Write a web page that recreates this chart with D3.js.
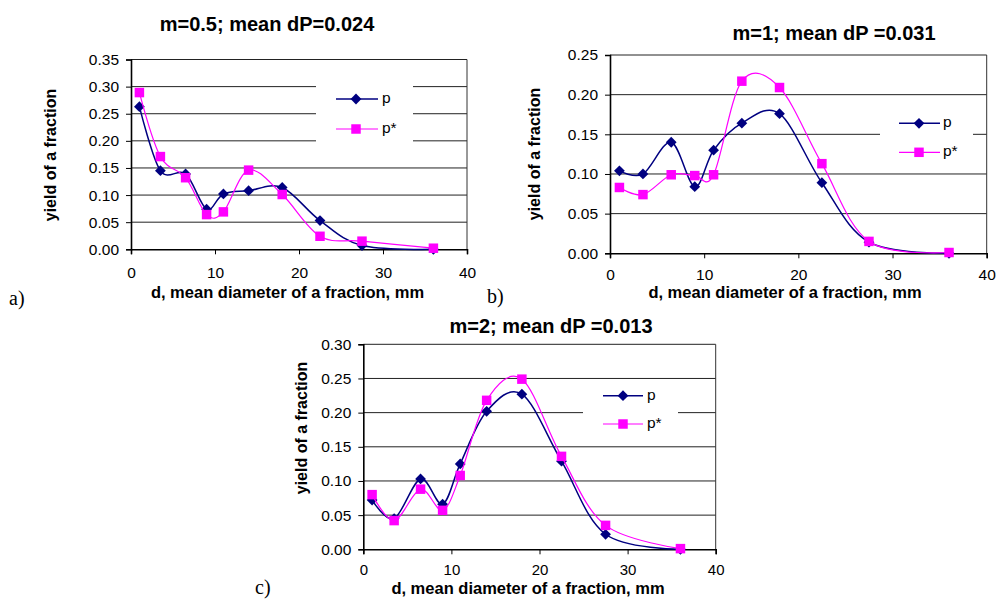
<!DOCTYPE html>
<html><head><meta charset="utf-8">
<script src="https://cdn.jsdelivr.net/npm/d3@7"></script>
<style>
html,body{margin:0;padding:0;background:#fff;}
svg{display:block;font-family:"Liberation Sans",Arial,sans-serif;}
</style></head>
<body>
<svg id="chart" width="996" height="600"></svg>
<script>
// ---- data ----
const d = [1, 3.5, 6.5, 9, 11, 14, 18, 22.5, 27.5, 36];
const pA     = [0.263, 0.145, 0.139, 0.074, 0.102, 0.108, 0.114, 0.053, 0.007, 0.000];
const pStarA = [0.289, 0.171, 0.132, 0.064, 0.069, 0.146, 0.101, 0.024, 0.015, 0.002];
const pB     = [0.104, 0.100, 0.140, 0.084, 0.130, 0.164, 0.176, 0.089, 0.014, 0.000];
const pStarB = [0.083, 0.074, 0.099, 0.098, 0.099, 0.217, 0.209, 0.113, 0.015, 0.001];
const pC     = [0.072, 0.045, 0.103, 0.066, 0.125, 0.202, 0.227, 0.129, 0.022, 0.000];
const pStarC = [0.080, 0.042, 0.088, 0.057, 0.108, 0.218, 0.249, 0.136, 0.035, 0.001];
const seriesNames = ["p", "p*"];
const titles = ["m=0.5; mean dP=0.024", "m=1; mean dP =0.031", "m=2; mean dP =0.013"];
const panelLetters = ["a)", "b)", "c)"];
const xTicks = [0, 10, 20, 30, 40];
const yTicksA = [0, 0.05, 0.10, 0.15, 0.20, 0.25, 0.30, 0.35];
const yTicksB = [0, 0.05, 0.10, 0.15, 0.20, 0.25];
const yTicksC = [0, 0.05, 0.10, 0.15, 0.20, 0.25, 0.30];
const xLabel = "d, mean diameter of a fraction, mm";
const yLabel = "yield of a fraction";

const NAVY = "#000080", MAG = "#ff00ff";
const svg = d3.select("#chart");

const panels = [
  {title: titles[0], letter: panelLetters[0], p: pA, ps: pStarA, yTicks: yTicksA,
   L: 131, R: 467, T: 59.5, B: 249.3,
   titleX: 267, titleY: 31, ylX: 56, ylY: 155, xlX: 287.5, xlY: 298,
   letX: 9, letY: 305, xPad: 12.5, xFs: 15.5,
   leg: {x0: 316, x1: 413, y0: 81, y1: 146, lx0: 336, lx1: 378, mx: 356, y1i: 99, y2i: 129, tx: 382}},
  {title: titles[1], letter: panelLetters[1], p: pB, ps: pStarB, yTicks: yTicksB,
   L: 610, R: 986.7, T: 55, B: 253.3,
   titleX: 834, titleY: 40, ylX: 540, ylY: 154, xlX: 785, xlY: 298,
   letX: 487, letY: 303, xPad: 10.5, xFs: 15.5,
   leg: {x0: 880, x1: 973, y0: 106, y1: 168, lx0: 899, lx1: 940, mx: 919, y1i: 123.3, y2i: 152.3, tx: 943}},
  {title: titles[2], letter: panelLetters[2], p: pC, ps: pStarC, yTicks: yTicksC,
   L: 363.3, R: 715.7, T: 344.3, B: 549.3,
   titleX: 551, titleY: 333, ylX: 307, ylY: 428, xlX: 528, xlY: 593.5,
   letX: 255, letY: 594, xPad: 10, xFs: 15,
   leg: {x0: 583, x1: 678, y0: 383, y1: 440, lx0: 603, lx1: 643, mx: 623, y1i: 395.7, y2i: 424, tx: 647}}
];

const diamond = d3.symbol().type(d3.symbolSquare).size(58)();
const square = d3.symbol().type(d3.symbolSquare).size(90)();

panels.forEach(cfg => {
  const yMax = cfg.yTicks[cfg.yTicks.length - 1];
  const x = d3.scaleLinear().domain([0, 40]).range([cfg.L, cfg.R]);
  const y = d3.scaleLinear().domain([0, yMax]).range([cfg.B, cfg.T]);
  const g = svg.append("g");

  // gridlines
  g.append("g").selectAll("line").data(cfg.yTicks.filter(t => t > 0)).join("line")
    .attr("x1", cfg.L).attr("x2", cfg.R)
    .attr("y1", t => y(t)).attr("y2", t => y(t))
    .attr("stroke", "#222").attr("stroke-width", 1);
  // right border
  g.append("line").attr("x1", cfg.R).attr("x2", cfg.R).attr("y1", cfg.T).attr("y2", cfg.B)
    .attr("stroke", "#333").attr("stroke-width", 1);

  // legend background (hides gridlines)
  const lg = cfg.leg;
  g.append("rect").attr("x", lg.x0).attr("y", lg.y0).attr("width", lg.x1 - lg.x0).attr("height", lg.y1 - lg.y0)
    .attr("fill", "#fff");

  // axes
  const xAxis = d3.axisBottom(x).tickValues(xTicks).tickSize(5).tickPadding(cfg.xPad).tickFormat(d3.format("d"));
  const yAxis = d3.axisLeft(y).tickValues(cfg.yTicks).tickSize(5).tickPadding(7).tickFormat(d3.format(".2f"));
  const gx = g.append("g").attr("transform", `translate(0,${cfg.B})`).call(xAxis);
  const gy = g.append("g").attr("transform", `translate(${cfg.L},0)`).call(yAxis);
  [gx, gy].forEach(ax => {
    ax.select(".domain").attr("stroke", "#000").attr("stroke-width", 1.6);
    ax.selectAll(".tick line").attr("stroke", "#000").attr("stroke-width", 1);
    ax.selectAll(".tick text").attr("font-family", "Liberation Sans, Arial, sans-serif")
      .attr("font-size", 15.5).attr("fill", "#000");
  });
  gx.selectAll(".tick text").attr("font-size", cfg.xFs);

  // series
  const line = d3.line().x(v => x(v[0])).y(v => y(v[1])).curve(d3.curveCardinal.tension(0));
  const series = [
    {vals: cfg.p, color: NAVY, w: 1.5, shape: diamond, rot: 45},
    {vals: cfg.ps, color: MAG, w: 1.2, shape: square, rot: 0}
  ];
  series.forEach(s => {
    const pts = d.map((dv, i) => [dv, s.vals[i]]);
    g.append("path").attr("d", line(pts)).attr("fill", "none")
      .attr("stroke", s.color).attr("stroke-width", s.w);
    g.append("g").selectAll("path").data(pts).join("path")
      .attr("d", s.shape)
      .attr("transform", v => `translate(${x(v[0])},${y(v[1])}) rotate(${s.rot})`)
      .attr("fill", s.color);
  });

  // legend
  const legItems = [
    {name: seriesNames[0], color: NAVY, w: 1.5, shape: diamond, rot: 45, yy: lg.y1i},
    {name: seriesNames[1], color: MAG, w: 1.2, shape: square, rot: 0, yy: lg.y2i}
  ];
  legItems.forEach(it => {
    g.append("line").attr("x1", lg.lx0).attr("x2", lg.lx1).attr("y1", it.yy).attr("y2", it.yy)
      .attr("stroke", it.color).attr("stroke-width", it.w);
    g.append("path").attr("d", it.shape).attr("fill", it.color)
      .attr("transform", `translate(${lg.mx},${it.yy}) rotate(${it.rot})`);
    g.append("text").attr("x", lg.tx).attr("y", it.yy + 4).attr("font-size", 15.5)
      .attr("fill", "#000").text(it.name);
  });

  // titles & labels
  g.append("text").attr("x", cfg.titleX).attr("y", cfg.titleY).attr("text-anchor", "middle")
    .attr("font-size", 20).attr("font-weight", "bold").text(cfg.title);
  g.append("text").attr("transform", `translate(${cfg.ylX},${cfg.ylY}) rotate(-90)`)
    .attr("text-anchor", "middle").attr("font-size", 16).attr("font-weight", "bold").text(yLabel);
  g.append("text").attr("x", cfg.xlX).attr("y", cfg.xlY).attr("text-anchor", "middle")
    .attr("font-size", 16.5).attr("font-weight", "bold").text(xLabel);
  g.append("text").attr("x", cfg.letX).attr("y", cfg.letY)
    .attr("font-family", "Liberation Serif, Times New Roman, serif").attr("font-size", 20).text(cfg.letter);
});
</script>
</body></html>
